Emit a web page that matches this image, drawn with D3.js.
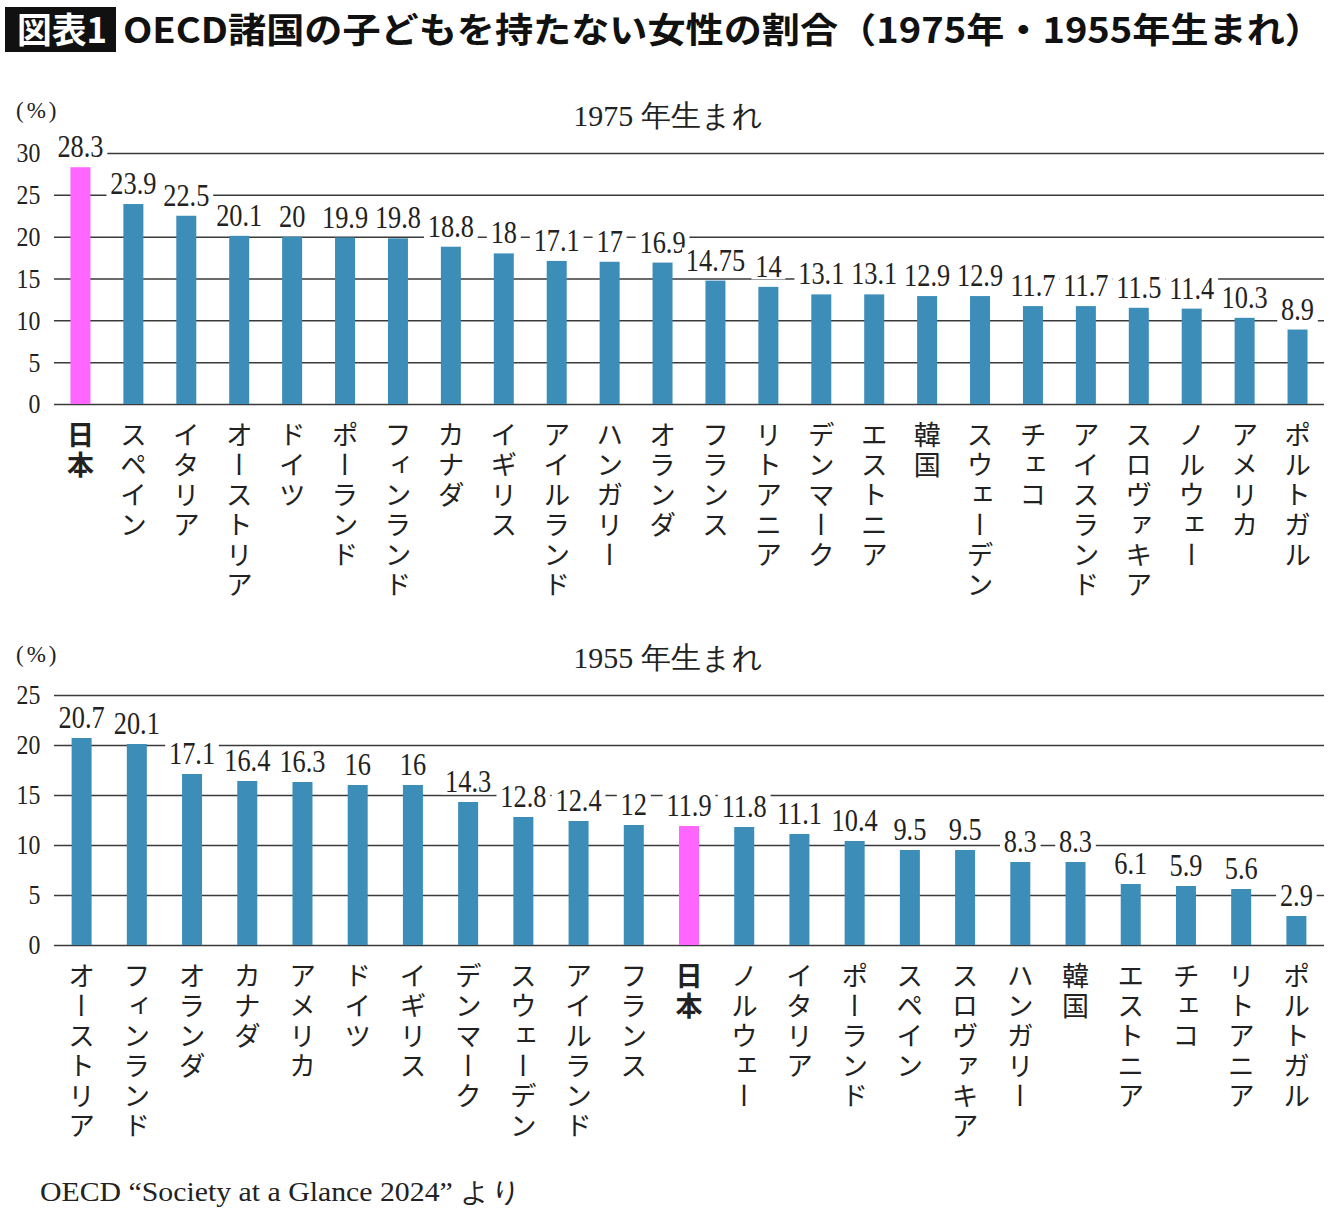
<!DOCTYPE html>
<html>
<head>
<meta charset="utf-8">
<script src="https://cdn.jsdelivr.net/npm/d3@7"></script>
<style>
  body { margin: 0; background: #fff; }
  svg { display: block; }
</style>
</head>
<body>
<div id="chart"></div>
<script>
// 1975年生まれ
const names1975 = ['日本', 'スペイン', 'イタリア', 'オーストリア', 'ドイツ', 'ポーランド', 'フィンランド', 'カナダ',
  'イギリス', 'アイルランド', 'ハンガリー', 'オランダ', 'フランス', 'リトアニア', 'デンマーク', 'エストニア',
  '韓国', 'スウェーデン', 'チェコ', 'アイスランド', 'スロヴァキア', 'ノルウェー', 'アメリカ', 'ポルトガル'];
const values1975 = [28.3, 23.9, 22.5, 20.1, 20, 19.9, 19.8, 18.8, 18, 17.1, 17, 16.9, 14.75, 14, 13.1, 13.1,
  12.9, 12.9, 11.7, 11.7, 11.5, 11.4, 10.3, 8.9];
const ticks1975 = [0, 5, 10, 15, 20, 25, 30];

// 1955年生まれ
const names1955 = ['オーストリア', 'フィンランド', 'オランダ', 'カナダ', 'アメリカ', 'ドイツ', 'イギリス', 'デンマーク',
  'スウェーデン', 'アイルランド', 'フランス', '日本', 'ノルウェー', 'イタリア', 'ポーランド', 'スペイン',
  'スロヴァキア', 'ハンガリー', '韓国', 'エストニア', 'チェコ', 'リトアニア', 'ポルトガル'];
const values1955 = [20.7, 20.1, 17.1, 16.4, 16.3, 16, 16, 14.3, 12.8, 12.4, 12, 11.9, 11.8, 11.1, 10.4, 9.5,
  9.5, 8.3, 8.3, 6.1, 5.9, 5.6, 2.9];
const ticks1955 = [0, 5, 10, 15, 20, 25];

const highlight = '日本';
const BLUE = '#3d8db9';
const PINK = '#ff66ff';
const GRID = '#3a3a3a';
const INK = '#222';
const SERIF = "'Liberation Serif', 'DejaVu Serif', serif";
const JP = "'Noto Sans CJK JP', sans-serif";
const SQUEEZE = 0.85; // 縦長の明朝風数字に寄せる

const W = 1340, H = 1216;
const svg = d3.select('#chart').append('svg')
  .attr('width', W).attr('height', H);

// タイトル
svg.append('rect').attr('x', 5).attr('y', 7).attr('width', 111).attr('height', 45).attr('fill', '#111');
svg.append('text')
  .attr('x', 17).attr('y', 43)
  .attr('font-family', JP).attr('font-weight', 700).attr('font-size', 35)
  .attr('textLength', 90).attr('lengthAdjust', 'spacingAndGlyphs')
  .attr('fill', '#fff').text('図表1');
svg.append('text')
  .attr('x', 123).attr('y', 43)
  .attr('font-family', JP).attr('font-weight', 700).attr('font-size', 35)
  .attr('textLength', 1200).attr('lengthAdjust', 'spacingAndGlyphs')
  .attr('fill', '#111').text('OECD諸国の子どもを持たない女性の割合（1975年・1955年生まれ）');

function drawChart({ names, values, ticks, top, bottom, subtitle, subtitleY, unitY, labelY }) {
  const x = d3.scaleBand().domain(names).range([54, 1324]);
  const barW = 20;
  const y = d3.scaleLinear().domain([0, d3.max(ticks)]).range([bottom, top]);
  const g = svg.append('g');

  g.append('text')
    .attr('x', 668).attr('y', subtitleY)
    .attr('text-anchor', 'middle')
    .attr('font-family', SERIF).attr('font-size', 30).attr('fill', INK)
    .text(subtitle);

  g.append('text')
    .attr('x', 16).attr('y', unitY)
    .attr('font-family', SERIF).attr('font-size', 23).attr('letter-spacing', 3).attr('fill', INK)
    .text('(%)');

  // グリッド線
  const axis = d3.axisLeft(y).tickValues(ticks).tickSize(-(1324 - 54)).tickPadding(16);
  const ax = g.append('g').attr('transform', 'translate(54,0)').call(axis);
  ax.select('.domain').remove();
  ax.selectAll('.tick line').attr('stroke', GRID).attr('stroke-width', 1.5);
  ax.selectAll('.tick text')
    .attr('font-family', SERIF).attr('font-size', 28).attr('fill', INK)
    .attr('transform', `scale(${SQUEEZE},1)`);

  // 棒
  g.selectAll('.bar').data(names).enter().append('rect')
    .attr('x', d => x(d) + x.bandwidth() / 2 - barW / 2)
    .attr('y', (d, i) => y(values[i]))
    .attr('width', barW)
    .attr('height', (d, i) => y(0) - y(values[i]))
    .attr('fill', d => d === highlight ? PINK : BLUE);

  // 値ラベル（白背景でグリッド線を隠す）
  const lab = g.selectAll('.lab').data(names).enter().append('g')
    .attr('transform', (d, i) =>
      `translate(${x(d) + x.bandwidth() / 2},${y(values[i]) - 10}) scale(${SQUEEZE},1)`);
  const txt = lab.append('text')
    .attr('text-anchor', 'middle')
    .attr('font-family', SERIF).attr('font-size', 31).attr('fill', INK)
    .text((d, i) => values[i]);
  txt.each(function () {
    const b = this.getBBox();
    d3.select(this.parentNode).insert('rect', 'text')
      .attr('x', b.x - 4.5).attr('y', b.y + 5)
      .attr('width', b.width + 9).attr('height', b.height - 9)
      .attr('fill', '#fff');
  });

  // 国名（縦書き）
  g.selectAll('.name').data(names).enter().append('text')
    .attr('x', d => x(d) + x.bandwidth() / 2)
    .attr('y', labelY)
    .style('writing-mode', 'vertical-rl')
    .attr('font-family', JP).attr('font-size', 27)
    .attr('font-weight', d => d === highlight ? 700 : 400)
    .attr('letter-spacing', 3)
    .attr('fill', INK)
    .text(d => d);
}

drawChart({
  names: names1975, values: values1975, ticks: ticks1975,
  top: 153, bottom: 404, subtitle: '1975 年生まれ', subtitleY: 126, unitY: 118, labelY: 421
});

drawChart({
  names: names1955, values: values1955, ticks: ticks1955,
  top: 695, bottom: 945, subtitle: '1955 年生まれ', subtitleY: 668, unitY: 662, labelY: 962
});

svg.append('text')
  .attr('x', 40).attr('y', 1201)
  .attr('font-family', SERIF).attr('font-size', 27).attr('fill', INK)
  .attr('textLength', 482).attr('lengthAdjust', 'spacingAndGlyphs')
  .text('OECD “Society at a Glance 2024” より');
</script>
</body>
</html>
